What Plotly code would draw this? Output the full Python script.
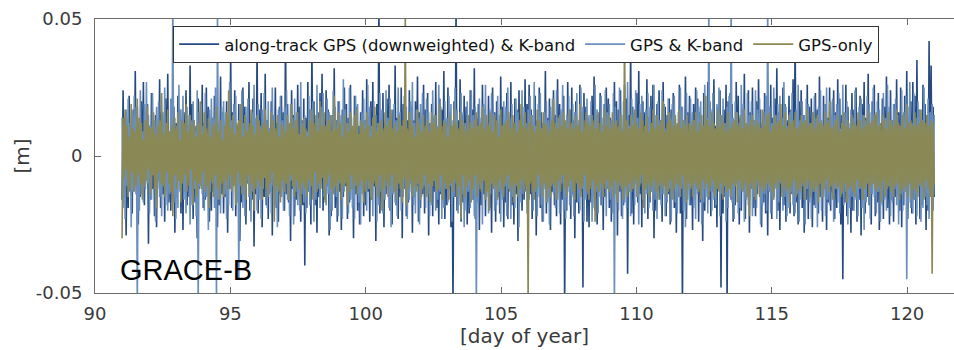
import numpy as np
import plotly.graph_objects as go

# Orbit residuals for GRACE-B, days 91-121 of the year, in millimetres,
# one sample every 0.0375 day
T_START, T_END = 91.0, 121.0

along_track_kband_mm = [
    -16, 24, -11, 14, -29, 9, -19, 22, -13, 8, -21, 17, -10, 31, -14, 18, -25, 12, -15, 20,
    -10, 27, -18, 13, -8, 19, -32, 11, -16, 23, -12, 9, -22, 15, -26, 13, -9, 28, -19, 16,
    -14, 10, -24, 21, -12, 30, -17, 8, -20, 14, -11, 18, -28, 12, -15, 22, -9, 17, -21, 11,
    -27, 16, -13, 24, -18, 10, -15, 33, -10, 19, -23, 13, -17, 11, -30, 21, -12, 15, -9, 26,
    -19, 12, -16, 25, -11, 18, -24, 9, -20, 14, -13, 22, -10, 17, -26, 12, -18, 29, -14, 16,
    -21, 10, -15, 20, -28, 13, -12, 37, -19, 16, -9, 24, -22, 11, -14, 19, -31, 10, -17, 25,
    -12, 18, -25, 14, -10, 27, -20, 13, -16, 21, -33, 9, -14, 40, -21, 17, -11, 23, -26, 12,
    -15, 30, -18, 13, -23, 10, -13, 20, -29, 15, -9, 25, -19, 12, -24, 18, -14, 22, -11, 16,
    -20, 45, -14, 19, -17, 11, -31, 24, -12, 15, -22, 9, -16, 26, -10, 18, -24, 13, -18, 21,
    -40, 14, -19, 27, -13, 17, -25, 40, -10, 20, -18, 11, -28, 16, -15, 23, -9, 30, -20, 13,
    -16, 24, -11, 17, -29, 12, -22, 15, -9, 32, -19, 13, -24, 20, -13, 10, -27, 17, -15, 25,
    -11, 19, -23, 14, -17, 26, -12, 9, -30, 22, -14, 18, -20, 11, -25, 16, -10, 24, -22, 13,
    -18, 28, -13, 10, -24, 20, -16, 27, -11, 15, -31, 19, -9, 55, -21, 13, -17, 23, -26, 12,
    -14, 21, -10, 26, -20, 9, -25, 17, -13, 33, -18, 14, -23, 11, -15, 25, -30, 19, -12, 16,
    -22, 13, -17, 24, -10, 18, -28, 13, -15, 20, -11, 29, -24, 16, -19, 9, -14, 26, -21, 17,
    -9, 23, -29, 12, -16, 19, -22, 14, -13, 27, -19, 10, -25, 21, -14, 17, -10, 31, -23, 13,
    -18, 25, -12, 16, -26, 11, -55, 20, -15, 55, -20, 13, -10, 28, -24, 15, -17, 22, -14, 18,
    -25, 10, -21, 24, -11, 17, -16, 32, -23, 14, -13, 19, -27, 9, -18, 26, -14, 17, -22, 12,
    -12, 22, -19, 13, -28, 25, -9, 16, -24, 20, -15, 11, -21, 29, -13, 18, -26, 10, -17, 23,
    -23, 14, -10, 27, -18, 12, -25, 21, -14, 17, -31, 24, -11, 15, -20, 10, -16, 28, -13, 19,
    -20, 26, -14, 17, -23, 10, -15, 22, -29, 13, -11, 25, -19, 16, -24, 12, -9, 31, -21, 14,
    -15, 21, -27, 10, -13, 24, -18, 15, -22, 28, -10, 19, -25, 13, -16, 22, -55, 11, -20, 27,
    -11, 17, -23, 25, -14, 13, -30, 20, -17, 9, -21, 26, -13, 16, -48, 23, -10, 18, -24, 14,
    -26, 12, -17, 22, -10, 29, -20, 15, -25, 13, -12, 23, -18, 11, -27, 19, -15, 25, -12, 21,
    -19, 14, -24, 10, -16, 27, -12, 20, -29, 17, -13, 24, -22, 10, -18, 26, -9, 21, -43, 15,
    -13, 40, -21, 18, -25, 13, -10, 23, -17, 31, -14, 12, -26, 20, -19, 16, -11, 28, -23, 14,
    -17, 22, -13, 26, -30, 10, -20, 19, -12, 24, -16, 13, -24, 27, -10, 18, -22, 15, -14, 21,
    -25, 17, -11, 23, -19, 14, -28, 11, -15, 26, -21, 18, -55, 13, -13, 29, -23, 16, -10, 22,
    -18, 12, -27, 19, -14, 25, -12, 21, -24, 16, -17, 10, -31, 23, -20, 14, -9, 27, -16, 20,
    -22, 15, -13, 28, -19, 11, -26, 18, -11, 24, -48, 13, -21, 17, -15, 26, -55, 20, -12, 23,
    -16, 19, -24, 11, -18, 27, -10, 22, -25, 14, -20, 17, -12, 30, -23, 11, -15, 24, -28, 16,
    -12, 25, -19, 13, -22, 20, -14, 28, -9, 17, -26, 12, -17, 23, -21, 10, -29, 18, -13, 26,
    -23, 14, -15, 21, -11, 32, -20, 16, -27, 12, -13, 25, -18, 19, -24, 13, -10, 22, -21, 17,
    -14, 28, -22, 45, -17, 12, -25, 20, -12, 24, -19, 15, -28, 10, -16, 26, -23, 18, -11, 21,
    -26, 13, -18, 23, -12, 17, -21, 29, -15, 11, -24, 22, -9, 19, -27, 14, -17, 25, -20, 12,
    -13, 24, -23, 16, -19, 28, -11, 21, -25, 15, -45, 12, -17, 26, -22, 18, -14, 10, -28, 23,
    -20, 17, -12, 25, -24, 13, -16, 22, -29, 19, -10, 27, -21, 14, -15, 30, -18, 11, -25, 20,
    -10, 26, -22, 15, -17, 23, -27, 12, -14, 21, -23, 18, -12, 29, -19, 10, -25, 24, -16, 13,
    -24, 19, -15, 28, -12, 16, -20, 25, -26, 11, -18, 22, -13, 31, -23, 14, -10, 20, -21, 27,
    -16, 22, -25, 35, -11, 17, -23, 13, -18, 26, -14, 19, -27, 15, -20, 42, -12, 33, -22, 18,
    -15,
]

gps_kband_mm = [
    14, -19, 8, -23, 17, -11, 21, -9, 12, -26, 16, -13, 22, -8, 18, -55, 10, -20, 24, -14,
    9, -17, 19, -12, 27, -10, 15, -21, 11, -16, 23, -7, 13, -24, 18, -12, 20, -15, 8, -22,
    16, -11, 25, -18, 12, -20, 9, -14, 21, -9, 55, -17, 14, -23, 11, -19, 26, -13, 17, -10,
    22, -16, 10, -21, 18, -8, 15, -25, 13, -18, 20, -12, 9, -22, 24, -55, 16, -11, 19, -14,
    11, -20, 23, -15, 8, -27, 17, -13, 21, -10, 14, -19, 25, -55, 55, -16, 12, -21, 18, -9,
    20, -14, 16, -23, 10, -18, 27, -12, 13, -20, 19, -8, 22, -17, 9, -45, 15, -11, 24, -19,
    12, -22, 18, -10, 21, -15, 8, -24, 16, -13, 26, -9, 14, -20, 19, -16, 11, -23, 17, -12,
    23, -8, 13, -19, 20, -14, 10, -21, 25, -11, 15, -18, 9, -26, 17, -12, 22, -15, 13, -20,
    18, -10, 24, -16, 11, -22, 19, -9, 14, -25, 21, -13, 16, -18, 8, -20, 27, -14, 12, -17,
    15, -21, 9, -13, 22, -18, 17, -11, 20, -24, 10, -16, 26, -12, 14, -19, 18, -8, 23, -15,
    11, -18, 21, -14, 16, -27, 9, -20, 24, -12, 18, -15, 13, -22, 20, -10, 15, -23, 28, -13,
    17, -9, 12, -21, 25, -16, 14, -19, 10, -23, 22, -11, 19, -17, 8, -25, 16, -14, 21, -10,
    13, -20, 26, -12, 18, -15, 11, -22, 20, -9, 15, -24, 12, -18, 23, -13, 17, -21, 9, -16,
    24, -11, 14, -19, 21, -26, 10, -14, 19, -17, 13, -22, 25, -10, 16, -20, 11, -15, 22, -12,
    18, -23, 9, -16, 20, -13, 27, -18, 12, -21, 17, -10, 14, -25, 19, -15, 23, -11, 10, -19,
    21, -14, 16, -22, 12, -18, 24, -9, 15, -20, 11, -16, 26, -13, 18, -23, 9, -19, 20, -12,
    14, -17, 22, -11, 19, -24, 13, -15, 25, -10, 17, -21, 8, -18, 23, -14, 16, -26, 12, -20,
    20, -13, 10, -19, 24, -16, 15, -22, 18, -55, 11, -17, 21, -12, 14, -25, 19, -9, 26, -15,
    12, -21, 17, -14, 23, -10, 16, -20, 9, -18, 22, -13, 15, -24, 11, -16, 20, -11, 18, -22,
    25, -12, 14, -23, 19, -15, 10, -19, 21, -11, 16, -26, 13, -17, 24, -14, 18, -10, 12, -21,
    17, -16, 22, -9, 15, -20, 27, -13, 11, -22, 19, -15, 23, -18, 10, -24, 16, -12, 20, -17,
    13, -25, 18, -11, 21, -14, 9, -19, 24, -16, 14, -21, 17, -10, 26, -20, 12, -23, 15, -13,
    22, -18, 11, -15, 19, -22, 16, -9, 23, -17, 13, -20, 25, -12, 18, -24, 10, -16, 21, -14,
    15, -11, 20, -24, 12, -19, 26, -13, 17, -21, 9, -15, 22, -18, 14, -10, 24, -22, 16, -12,
    19, -16, 13, -21, 23, -55, 18, -14, 10, -20, 25, -11, 15, -23, 20, -17, 12, -19, 27, -13,
    11, -22, 21, -12, 16, -18, 24, -15, 14, -25, 19, -10, 22, -16, 9, -21, 17, -14, 23, -19,
    18, -13, 12, -20, 26, -16, 15, -23, 20, -11, 13, -18, 24, -14, 19, -22, 10, -17, 21, -12,
    14, -24, 19, -10, 22, -17, 11, -21, 16, -15, 25, -12, 18, -20, 13, -26, 23, -16, 9, -18,
    21, -11, 16, -19, 13, -23, 24, -14, 18, -12, 20, -25, 11, -17, 26, -15, 14, -21, 55, -13,
    17, -20, 23, -16, 10, -18, 19, -12, 25, -22, 15, -14, 21, -11, 12, -24, 18, -19, 22, -15,
    55, -17, 14, -23, 20, -10, 16, -21, 12, -19, 26, -13, 19, -24, 11, -16, 23, -18, 15, -12,
    20, -22, 13, -15, 24, -19, 17, -11, 21, -25, 10, -18, 16, -14, 22, -20, 55, -13, 18, -21,
    12, -16, 25, -12, 15, -23, 19, -17, 22, -10, 14, -20, 27, -15, 18, -22, 11, -19, 16, -13,
    23, -18, 10, -21, 17, -14, 26, -24, 13, -16, 20, -11, 15, -25, 21, -12, 19, -17, 12, -23,
    16, -13, 22, -19, 14, -26, 18, -10, 24, -20, 11, -15, 19, -22, 25, -16, 13, -18, 20, -11,
    21, -24, 15, -12, 19, -17, 23, -21, 10, -14, 26, -18, 16, -13, 20, -25, 12, -19, 17, -15,
    14, -20, 24, -16, 11, -22, 18, -12, 21, -19, 15, -27, 13, -17, 22, -10, 19, -23, 16, -14,
    25, -15, 12, -21, 20, -13, 17, -24, 9, -18, 23, -16, 14, -20, 26, -11, 18, -22, 13, -17,
    19, -12, 21, -18, 15, -25, 11, -14, 24, -20, 16, -13, 22, -45, 18, -17, 27, -19, 12, -21,
    23, -16, 14, -22, 20, -11, 17, -24, 13, -19, 25, -15, 10, -18, 21, -23, 16, -12, 19, -20,
    15,
]

gps_only_mm = [
    -30, 14, -8, 17, -5, 11, -15, 7, -12, 19, -6, 10, -13, 9, -11, 21, -7, 14, -10, 12,
    -16, 6, -11, 13, -9, 18, -5, 11, -14, 10, -7, 16, -12, 8, -19, 11, -6, 13, -10, 23,
    -11, 8, -15, 12, -6, 17, -10, 9, -13, 11, -22, 14, -7, 10, -12, 16, -9, 6, -17, 13,
    -10, 12, -7, 19, -13, 9, -11, 15, -5, 11, -18, 13, -9, 7, -15, 12, -10, 20, -12, 8,
    -6, 16, -13, 10, -11, 14, -19, 7, -9, 12, -15, 11, -7, 18, -12, 9, -16, 13, -10, 6,
    -15, 11, -9, 16, -12, 24, -7, 10, -13, 15, -11, 8, -18, 12, -6, 13, -10, 19, -14, 7,
    -11, 15, -16, 9, -7, 12, -14, 17, -10, 11, -20, 8, -12, 15, -9, 13, -11, 10, -16, 12,
    -8, 17, -12, 11, -15, 9, -10, 16, -6, 13, -24, 10, -11, 15, -13, 7, -17, 12, -9, 11,
    -13, 9, -10, 15, -16, 12, -7, 19, -11, 10, -15, 13, -9, 16, -12, 8, -18, 11, -10, 14,
    -12, 10, -15, 7, -9, 13, -11, 17, -16, 12, -6, 15, -13, 9, -10, 20, -12, 11, -8, 16,
    -17, 11, -10, 13, -7, 15, -12, 9, -14, 22, -11, 10, -13, 16, -9, 12, -16, 7, -11, 15,
    -10, 12, -18, 9, -13, 16, -7, 11, -12, 15, -10, 17, -14, 8, -11, 13, -9, 12, -17, 10,
    -13, 16, -9, 11, -12, 7, -16, 14, -10, 18, -11, 9, -15, 12, -7, 13, -20, 10, -12, 16,
    -9, 11, -15, 13, -11, 17, -7, 10, -13, 12, -16, 9, -10, 15, -12, 11, -17, 13, -8, 52,
    -18, 10, -12, 16, -9, 13, -15, 11, -11, 7, -13, 17, -10, 12, -16, 9, -12, 15, -7, 11,
    -15, 13, -10, 9, -17, 16, -11, 12, -9, 15, -13, 10, -12, 19, -7, 11, -16, 13, -10, 12,
    -12, 7, -16, 15, -10, 11, -13, 17, -9, 12, -15, 10, -11, 16, -23, 13, -7, 11, -15, 9,
    -11, 15, -9, 12, -17, 10, -12, 13, -7, 16, -15, 11, -10, 12, -13, 18, -9, 10, -16, 15,
    -13, 11, -20, 16, -10, 9, -12, 15, -11, 13, -16, 7, -9, 17, -12, 11, -15, 12, -10, 13,
    -7, 16, -13, 10, -11, 15, -17, 12, -10, 9, -15, 13, -12, 19, -9, 11, -13, 16, -11, 10,
    -52, 12, -10, 15, -13, 11, -16, 9, -12, 17, -7, 13, -11, 10, -15, 16, -10, 12, -17, 11,
    -12, 9, -15, 13, -10, 21, -11, 12, -16, 10, -9, 15, -13, 11, -7, 16, -12, 13, -15, 10,
    -11, 17, -9, 12, -13, 10, -16, 15, -10, 11, -12, 19, -15, 9, -11, 13, -7, 16, -13, 12,
    -16, 11, -12, 15, -9, 13, -24, 10, -11, 16, -13, 12, -10, 9, -15, 17, -12, 11, -9, 15,
    -13, 10, -11, 16, -15, 12, -9, 13, -17, 11, -10, 15, -12, 9, -16, 45, -11, 13, -15, 10,
    -10, 15, -13, 11, -12, 17, -9, 12, -15, 10, -11, 16, -7, 13, -19, 11, -12, 15, -10, 9,
    -15, 12, -11, 17, -9, 10, -13, 15, -16, 11, -10, 13, -12, 20, -11, 9, -15, 12, -13, 16,
    -9, 13, -16, 11, -12, 15, -10, 12, -11, 17, -15, 10, -7, 13, -12, 11, -17, 15, -10, 12,
    -12, 11, -15, 13, -10, 16, -11, 9, -13, 12, -16, 15, -9, 11, -12, 22, -10, 13, -15, 11,
    -11, 16, -9, 12, -15, 10, -12, 17, -13, 11, -10, 15, -16, 12, -11, 9, -13, 16, -12, 10,
    -15, 12, -10, 13, -11, 16, -17, 11, -9, 15, -12, 10, -13, 17, -10, 12, -15, 11, -22, 13,
    -10, 15, -12, 11, -16, 13, -9, 12, -15, 10, -11, 17, -13, 11, -12, 15, -10, 16, -11, 9,
    -13, 11, -16, 15, -10, 12, -12, 13, -9, 19, -15, 11, -11, 16, -13, 10, -12, 15, -17, 12,
    -11, 13, -9, 16, -15, 10, -12, 11, -13, 15, -10, 12, -16, 13, -11, 17, -9, 11, -15, 12,
    -12, 16, -13, 10, -11, 15, -17, 12, -10, 13, -15, 11, -12, 16, -9, 12, -13, 20, -11, 10,
    -16, 11, -10, 13, -12, 15, -11, 9, -15, 12, -13, 16, -10, 11, -17, 13, -12, 10, -11, 15,
    -13, 12, -15, 11, -9, 16, -12, 13, -11, 10, -16, 15, -12, 11, -10, 17, -15, 12, -11, 13,
    -10, 15, -12, 16, -13, 11, -11, 12, -17, 15, -9, 13, -15, 10, -12, 16, -11, 13, -13, 11,
    -15, 13, -11, 17, -10, 12, -16, 11, -12, 15, -13, 10, -11, 19, -15, 12, -10, 13, -16, 11,
    -12, 16, -13, 11, -15, 12, -10, 17, -11, 13, -16, 12, -9, 15, -12, 11, -15, 13, -43, 12,
    -10,
]

x_ticks = [90, 95, 100, 105, 110, 115, 120]
y_ticks = [-0.05, 0, 0.05]
y_tick_text = ["-0.05", "0", "0.05"]

series = [
    ("along-track GPS (downweighted) & K-band", along_track_kband_mm, "#264a80"),
    ("GPS & K-band", gps_kband_mm, "#6b8fbc"),
    ("GPS-only", gps_only_mm, "#8a8955"),
]

fig = go.Figure()
for name, vals_mm, color in series:
    vals = np.asarray(vals_mm, dtype=float) * 1e-3
    t = np.linspace(T_START, T_END, len(vals))
    fig.add_trace(go.Scatter(
        x=t, y=vals, mode="lines", name=name,
        line=dict(color=color, width=1.6),
    ))

TEXT_COLOR = "#3a3a3a"
TICK_FONT = dict(family="DejaVu Sans", size=18, color=TEXT_COLOR)
LABEL_FONT = dict(family="DejaVu Sans", size=20, color=TEXT_COLOR)
AXIS_COLOR = "#6a6a6a"

fig.update_layout(
    width=954, height=350,
    margin=dict(l=95, r=0, t=19, b=57),
    paper_bgcolor="white", plot_bgcolor="white",
    showlegend=True,
    legend=dict(
        orientation="h",
        x=0.091, xanchor="left",
        y=0.975, yanchor="top",
        bgcolor="white", bordercolor="#333333", borderwidth=1,
        font=dict(family="DejaVu Sans", size=16.5, color="#111111"),
        itemwidth=40, tracegroupgap=0,
    ),
    xaxis=dict(
        range=[90, 90 + (954 - 95) / 27.07],
        tickvals=x_ticks, ticktext=[str(v) for v in x_ticks],
        ticks="inside", ticklen=6, tickcolor=AXIS_COLOR, tickwidth=1,
        showline=True, linecolor=AXIS_COLOR, linewidth=1, mirror="ticks",
        showgrid=False, zeroline=False,
        tickfont=TICK_FONT, ticklabelstandoff=4,
        title=dict(text="[day of year]", font=LABEL_FONT, standoff=0),
    ),
    yaxis=dict(
        range=[-0.05, 0.05],
        tickvals=y_ticks, ticktext=y_tick_text,
        ticks="inside", ticklen=6, tickcolor=AXIS_COLOR, tickwidth=1,
        showline=True, linecolor=AXIS_COLOR, linewidth=1, mirror=False,
        showgrid=False, zeroline=False,
        tickfont=TICK_FONT, ticklabelstandoff=8,
        title=dict(text="[m]", font=LABEL_FONT, standoff=0),
    ),
    annotations=[dict(
        text="GRACE-B", xref="x", yref="y", x=90.86, y=-0.0417,
        xanchor="left", yanchor="middle", showarrow=False,
        font=dict(family="Liberation Sans", size=29, color="#000000"),
    )],
)

fig.write_html("out.html")
